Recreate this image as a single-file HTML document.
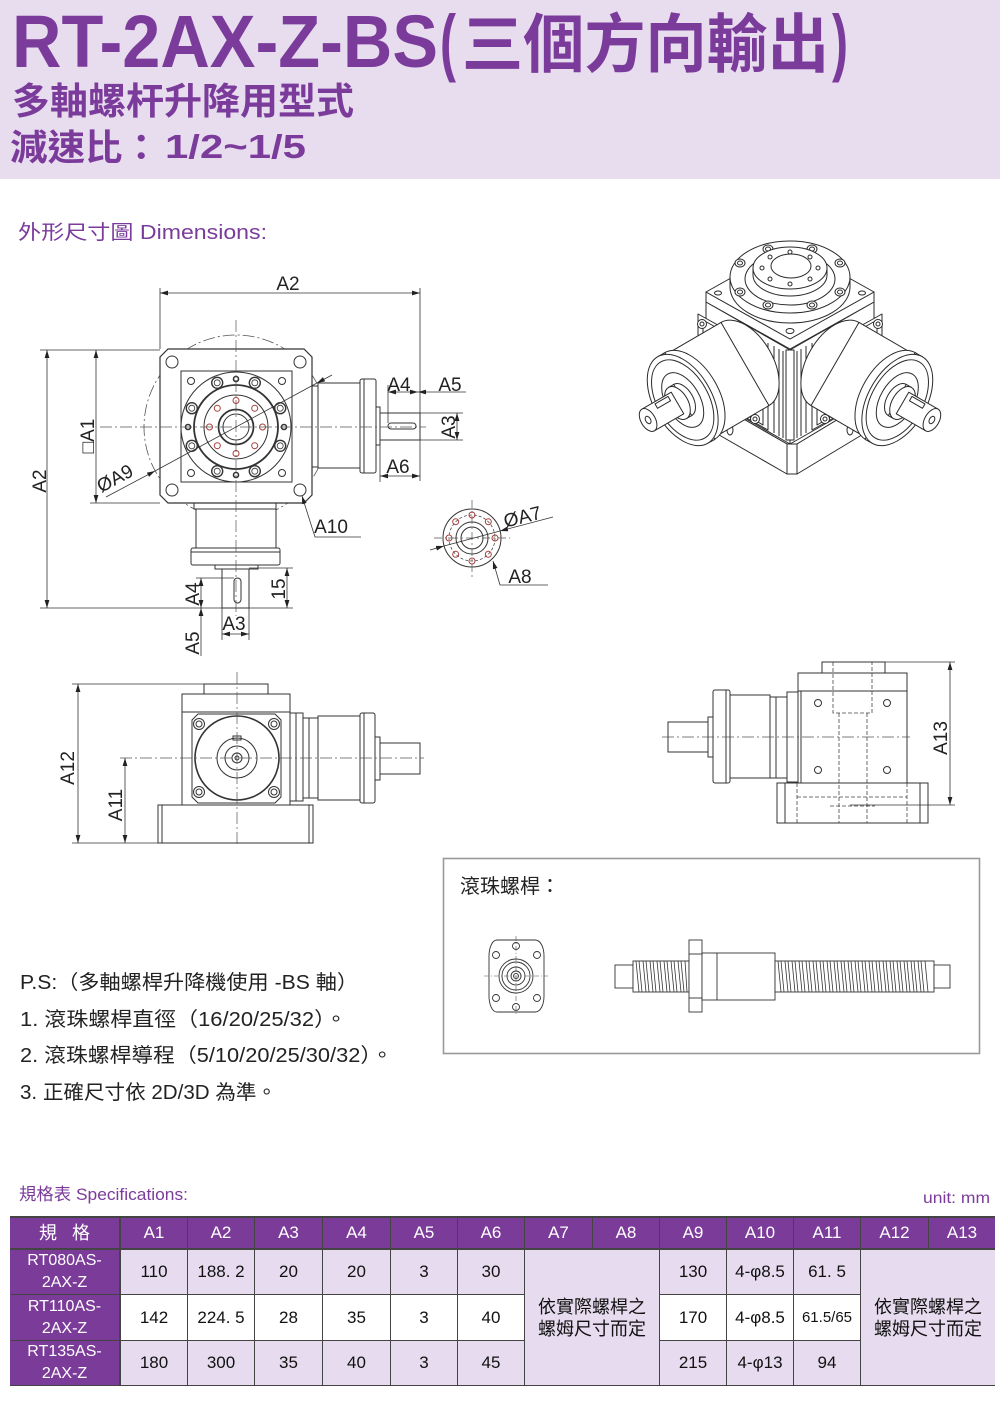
<!DOCTYPE html>
<html><head><meta charset="utf-8">
<style>
html,body{margin:0;padding:0;background:#fff;}
body{width:1000px;height:1405px;position:relative;overflow:hidden;font-family:"Liberation Sans","Noto Sans CJK TC",sans-serif;}
.hdr{position:absolute;left:0;top:0;width:1000px;height:179px;background:#e8dcef;}
svg.main{position:absolute;left:0;top:0;}
.tb{position:absolute;left:10px;top:1216px;width:985px;height:170px;background:#444;}
.c{position:absolute;display:flex;align-items:center;justify-content:center;text-align:center;font-size:17px;color:#111;line-height:22px;font-family:"Liberation Sans","Noto Sans CJK TC",sans-serif;}
.p{background:#7b3c99;color:#fff;}
.l{background:#e7dcef;}
.w{background:#fff;}
.h{top:2px;height:30px;}
.r1{top:34px;height:44px;}
.r2{top:79px;height:45px;}
.r3{top:125px;height:44px;}
</style></head>
<body>
<div class="hdr"></div>
<svg class="main" width="1000" height="1405" viewBox="0 0 1000 1405" font-family="Liberation Sans, Noto Sans CJK TC, sans-serif">
<defs>
<marker id="a" viewBox="0 0 10 6" refX="10" refY="3" markerWidth="8" markerHeight="4.8" markerUnits="userSpaceOnUse" orient="auto-start-reverse"><path d="M0,0 L10,3 L0,6z" fill="#222"/></marker>
</defs>

<!-- HEADER TEXT -->
<g fill="#7b3b9b" font-weight="bold">
<text x="12" y="67" font-size="74" textLength="426" lengthAdjust="spacingAndGlyphs">RT-2AX-Z-BS</text>
<text x="440" y="67" font-size="74" textLength="16" lengthAdjust="spacingAndGlyphs">(</text>
<text x="462" y="67" font-size="64" textLength="367" lengthAdjust="spacingAndGlyphs" font-family="Noto Sans CJK TC, sans-serif">三個方向輸出</text>
<text x="832" y="67" font-size="74" textLength="16" lengthAdjust="spacingAndGlyphs">)</text>
<text x="12" y="114" font-size="37" textLength="342" lengthAdjust="spacingAndGlyphs" font-family="Noto Sans CJK TC, sans-serif">多軸螺杆升降用型式</text>
<text x="10" y="160" font-size="36" textLength="150" lengthAdjust="spacingAndGlyphs" font-family="Noto Sans CJK TC, sans-serif">減速比：</text>
<text x="165" y="158" font-size="33" textLength="141" lengthAdjust="spacingAndGlyphs">1/2~1/5</text>
</g>
<text x="18" y="239" font-size="20" fill="#7b3b9b" textLength="249" lengthAdjust="spacingAndGlyphs">外形尺寸圖 Dimensions:</text>

<!-- ============ MAIN TOP-LEFT DRAWING ============ -->
<circle cx="236" cy="427" r="92" fill="none" stroke="#555" stroke-width="0.8" stroke-dasharray="12 3 2 3"/>
<g stroke="#333" stroke-width="1" fill="#fff">
<rect x="292" y="379" width="7" height="95"/>
<rect x="299" y="383" width="7" height="87"/>
<rect x="306" y="386" width="12" height="81"/>
<rect x="318" y="383" width="42" height="85"/>
<rect x="360" y="379" width="16" height="94" rx="2"/>
<line x1="364" y1="379" x2="364" y2="473"/>
<rect x="376" y="407" width="4" height="38"/>
<rect x="380" y="413" width="40" height="27"/>
<rect x="388" y="423" width="28" height="6" rx="3"/>
<rect x="194" y="500" width="82" height="9"/>
<rect x="196" y="509" width="80" height="39"/>
<rect x="191" y="548" width="89" height="17" rx="2"/>
<line x1="191" y1="552" x2="280" y2="552"/>
<rect x="215" y="565" width="43" height="4"/>
<rect x="222" y="569" width="27" height="39"/>
<rect x="234" y="578" width="7" height="25" rx="3.5"/>
<polygon points="168,349 304,349 312,357 312,495 304,503 168,503 160,495 160,357" stroke-width="1.2"/>
<circle cx="172" cy="362" r="6"/><circle cx="300" cy="362" r="6"/><circle cx="172" cy="490" r="6"/><circle cx="300" cy="490" r="6"/>
<rect x="181" y="371" width="111" height="111"/>
<circle cx="191" cy="381" r="3.5"/><circle cx="282" cy="381" r="3.5"/><circle cx="191" cy="473" r="3.5"/><circle cx="282" cy="473" r="3.5"/>
<circle cx="236" cy="427" r="55"/>
<circle cx="236" cy="427" r="42" stroke-width="1.8"/>
<circle cx="236" cy="427" r="32"/>
<circle cx="236" cy="427" r="17.5" stroke-width="1.8"/>
<circle cx="236" cy="427" r="13"/>
<g stroke-width="1.4">
<circle cx="280.2" cy="445.8" r="5.5"/><circle cx="191.8" cy="445.8" r="5.5"/><circle cx="280.2" cy="408.2" r="5.5"/><circle cx="191.8" cy="408.2" r="5.5"/>
<circle cx="254.8" cy="471.2" r="5.5"/><circle cx="217.2" cy="471.2" r="5.5"/><circle cx="254.8" cy="382.8" r="5.5"/><circle cx="217.2" cy="382.8" r="5.5"/>
</g>
<g fill="none" stroke-width="0.8">
<circle cx="280.2" cy="445.8" r="3"/><circle cx="191.8" cy="445.8" r="3"/><circle cx="280.2" cy="408.2" r="3"/><circle cx="191.8" cy="408.2" r="3"/>
<circle cx="254.8" cy="471.2" r="3"/><circle cx="217.2" cy="471.2" r="3"/><circle cx="254.8" cy="382.8" r="3"/><circle cx="217.2" cy="382.8" r="3"/>
</g>
<g stroke-width="1.6"><circle cx="284" cy="427" r="2.5"/><circle cx="188" cy="427" r="2.5"/><circle cx="236" cy="379" r="2.5"/><circle cx="236" cy="475" r="2.5"/></g>
<g stroke="#a8403c"><circle cx="262.5" cy="427" r="3"/><circle cx="209.5" cy="427" r="3"/><circle cx="236" cy="400.5" r="3"/><circle cx="236" cy="453.5" r="3"/>
<circle cx="254.7" cy="408.3" r="3"/><circle cx="217.3" cy="408.3" r="3"/><circle cx="254.7" cy="445.7" r="3"/><circle cx="217.3" cy="445.7" r="3"/></g>
</g>
<g stroke="#555" stroke-width="0.7" stroke-dasharray="12 3 2 3">
<line x1="100" y1="427" x2="426" y2="427"/>
<line x1="236" y1="320" x2="236" y2="616"/>
</g>
<g stroke="#333" stroke-width="0.8" fill="none">
<line x1="160" y1="288" x2="160" y2="349"/>
<line x1="420" y1="288" x2="420" y2="481"/>
<line x1="160" y1="293" x2="420" y2="293" marker-start="url(#a)" marker-end="url(#a)"/>
<line x1="40" y1="350" x2="160" y2="350"/>
<line x1="40" y1="608" x2="293" y2="608"/>
<line x1="47" y1="350" x2="47" y2="608" marker-start="url(#a)" marker-end="url(#a)"/>
<line x1="90" y1="503" x2="160" y2="503"/>
<line x1="96" y1="350" x2="96" y2="503" marker-start="url(#a)" marker-end="url(#a)"/>
<line x1="155" y1="471" x2="317" y2="383"/>
<line x1="106" y1="497" x2="155" y2="471" marker-end="url(#a)"/>
<line x1="332" y1="375" x2="317" y2="383" marker-end="url(#a)"/>
<polyline points="302,496 315,537 361,537" marker-start="url(#a)"/>
<line x1="388" y1="385" x2="388" y2="423"/>
<line x1="388" y1="392" x2="418" y2="392" marker-start="url(#a)" marker-end="url(#a)"/>
<line x1="418" y1="392" x2="466" y2="392" marker-start="url(#a)"/>
<line x1="420" y1="413" x2="463" y2="413"/>
<line x1="420" y1="440" x2="463" y2="440"/>
<line x1="457" y1="413" x2="457" y2="440" marker-start="url(#a)" marker-end="url(#a)"/>
<line x1="380" y1="445" x2="380" y2="482"/>
<line x1="380" y1="476" x2="420" y2="476" marker-start="url(#a)" marker-end="url(#a)"/>
<line x1="249" y1="568" x2="293" y2="568"/>
<line x1="287" y1="568" x2="287" y2="608" marker-start="url(#a)" marker-end="url(#a)"/>
<line x1="196" y1="578" x2="234" y2="578"/>
<line x1="201" y1="578" x2="201" y2="608" marker-start="url(#a)" marker-end="url(#a)"/>
<line x1="201" y1="608" x2="201" y2="656" marker-start="url(#a)"/>
<line x1="222" y1="608" x2="222" y2="640"/>
<line x1="249" y1="608" x2="249" y2="640"/>
<line x1="222" y1="634" x2="249" y2="634" marker-start="url(#a)" marker-end="url(#a)"/>
</g>
<g font-size="19" fill="#222" text-anchor="middle">
<text x="288" y="290">A2</text>
<text transform="translate(46,481) rotate(-90)">A2</text>
<text transform="translate(94,436) rotate(-90)">□A1</text>
<text transform="translate(118,484) rotate(-28.4)">ØA9</text>
<text x="331" y="533">A10</text>
<text x="399" y="391">A4</text>
<text x="450" y="391">A5</text>
<text transform="translate(455,427) rotate(-90)">A3</text>
<text x="398" y="473">A6</text>
<text transform="translate(285,589) rotate(-90)">15</text>
<text transform="translate(199,594) rotate(-90)">A4</text>
<text transform="translate(199,643) rotate(-90)">A5</text>
<text x="234" y="630">A3</text>
</g>

<!-- A7 view -->
<g stroke="#333" stroke-width="1" fill="none">
<circle cx="472" cy="538" r="29" fill="#fff"/>
<circle cx="472" cy="538" r="23" stroke-dasharray="3 2" stroke-width="0.7"/>
<circle cx="472" cy="538" r="16"/>
<circle cx="472" cy="538" r="11"/>
<g stroke="#a8403c"><circle cx="495" cy="538" r="3"/><circle cx="449" cy="538" r="3"/><circle cx="472" cy="515" r="3"/><circle cx="472" cy="561" r="3"/>
<circle cx="488.3" cy="521.7" r="3"/><circle cx="455.7" cy="521.7" r="3"/><circle cx="488.3" cy="554.3" r="3"/><circle cx="455.7" cy="554.3" r="3"/></g>
<g stroke="#555" stroke-width="0.7" stroke-dasharray="8 3 2 3"><line x1="434" y1="538" x2="510" y2="538"/><line x1="472" y1="500" x2="472" y2="577"/></g>
<g stroke-width="0.8">
<line x1="444" y1="546" x2="500" y2="531"/>
<line x1="430" y1="550" x2="444" y2="546" marker-end="url(#a)"/>
<line x1="553" y1="517" x2="500" y2="531" marker-end="url(#a)"/>
<polyline points="493,561 500,585 548,585" marker-start="url(#a)"/>
</g>
</g>
<g font-size="19" fill="#222" text-anchor="middle">
<text transform="translate(524,523) rotate(-14)">ØA7</text>
<text x="520" y="583">A8</text>
</g>

<!-- ============ 3D VIEW ============ -->
<g stroke="#2a2a2a" stroke-width="1" fill="#fff" stroke-linejoin="round">
<polygon points="700,394 745,368 835,368 880,394 797,444 787,444"/>
<polygon points="700,394 787,444 787,474 700,424"/>
<polygon points="797,444 880,394 880,424 797,474"/>
<rect x="787" y="444" width="10" height="30"/>
<ellipse cx="792" cy="435" rx="5" ry="3"/>
<ellipse cx="730" cy="430" rx="3" ry="5"/>
<ellipse cx="850" cy="430" rx="3" ry="5"/>
<polygon points="706,302 790,350 790,444 706,396"/>
<polygon points="874,302 790,350 790,444 874,396"/>
<rect x="786" y="350" width="8" height="90"/>
<path d="M768,343 V430 M774,346 V433 M779,349 V436 M783,351 V438 M797,351 V438 M801,349 V436 M806,346 V433 M812,343 V430" fill="none"/>
<g id="sp">
<polygon points="698,314 768,353 768,430 698,391"/>
<polygon points="703,320 763,354 763,425 703,390" fill="none"/>
<circle cx="702" cy="324" r="4.5"/><circle cx="702" cy="324" r="2"/>
<circle cx="758" cy="358" r="4.5"/><circle cx="758" cy="358" r="2"/>
<circle cx="755" cy="419" r="4.5"/><circle cx="755" cy="419" r="2"/>
</g>
<use href="#sp" transform="translate(1580,0) scale(-1,1)"/>
<polygon points="706,302 790,349 874,302 874,292 790,339 706,292"/>
<polygon points="706,292 790,245 874,292 790,339"/>
<ellipse cx="790" cy="331" rx="4" ry="2.5"/>
<ellipse cx="718" cy="293" rx="3.5" ry="2"/>
<ellipse cx="862" cy="293" rx="3.5" ry="2"/>
<path d="M730,277 L730,287 A60,36 0 0 0 850,287 L850,277 Z"/>
<ellipse cx="790" cy="277" rx="60" ry="36"/>
<ellipse cx="790" cy="279" rx="45" ry="26" fill="none"/>
<g>
<ellipse cx="768" cy="249" rx="5" ry="4"/><ellipse cx="812" cy="249" rx="5" ry="4"/>
<ellipse cx="740" cy="263" rx="5" ry="4"/><ellipse cx="840" cy="263" rx="5" ry="4"/>
<ellipse cx="740" cy="292" rx="5" ry="4"/><ellipse cx="840" cy="292" rx="5" ry="4"/>
<ellipse cx="768" cy="305" rx="5" ry="4"/><ellipse cx="812" cy="305" rx="5" ry="4"/>
<ellipse cx="768" cy="249" rx="2.5" ry="2"/><ellipse cx="812" cy="249" rx="2.5" ry="2"/>
<ellipse cx="740" cy="263" rx="2.5" ry="2"/><ellipse cx="840" cy="263" rx="2.5" ry="2"/>
<ellipse cx="740" cy="292" rx="2.5" ry="2"/><ellipse cx="840" cy="292" rx="2.5" ry="2"/>
<ellipse cx="768" cy="305" rx="2.5" ry="2"/><ellipse cx="812" cy="305" rx="2.5" ry="2"/>
</g>
<path d="M753,268 L753,275 A37,21 0 0 0 827,275 L827,268 Z"/>
<ellipse cx="790" cy="268" rx="37" ry="21"/>
<g><circle cx="818" cy="268" r="2"/><circle cx="762" cy="268" r="2"/><circle cx="790" cy="252" r="2"/><circle cx="790" cy="284" r="2"/>
<circle cx="810" cy="257" r="2"/><circle cx="770" cy="257" r="2"/><circle cx="810" cy="279" r="2"/><circle cx="770" cy="279" r="2"/></g>
<ellipse cx="791" cy="266" rx="20" ry="12"/>
<g id="cyl">
<ellipse cx="745" cy="364" rx="48" ry="28" transform="rotate(60 745 364)"/>
<polygon points="721,322.4 769,405.6 714,437.6 666,354.4"/>
<ellipse cx="689.6" cy="396" rx="50" ry="29" transform="rotate(60 689.6 396)"/>
<polygon points="665,352.7 715,439.3 707.7,443.3 657.7,356.7"/>
<ellipse cx="682.7" cy="400" rx="50" ry="29" transform="rotate(60 682.7 400)"/>
<ellipse cx="682.7" cy="400" rx="44" ry="25.5" transform="rotate(60 682.7 400)" fill="none"/>
<ellipse cx="682.7" cy="400" rx="30" ry="17" transform="rotate(60 682.7 400)" fill="none"/>
<ellipse cx="682.7" cy="400" rx="18" ry="10.5" transform="rotate(60 682.7 400)"/>
<polygon points="673.7,384.4 691.7,415.6 686.5,418.6 668.5,387.4"/>
<ellipse cx="677.5" cy="403" rx="18" ry="10.5" transform="rotate(60 677.5 403)"/>
<polygon points="671.25,392.2 683.75,413.8 654.35,430.8 641.85,409.2"/>
<ellipse cx="648.1" cy="420" rx="12.5" ry="7.2" transform="rotate(60 648.1 420)"/>
<ellipse cx="648.1" cy="420" rx="4" ry="2.5" transform="rotate(60 648.1 420)"/>
<polygon points="668,396.4 655,403.9 657.5,408.3 670.5,400.8"/>
</g>
<use href="#cyl" transform="translate(1580,0) scale(-1,1)"/>
</g>

<!-- ============ MIDDLE LEFT ============ -->
<g stroke="#333" stroke-width="1" fill="#fff">
<rect x="204" y="684" width="64" height="10"/>
<rect x="182" y="694" width="108" height="18"/>
<rect x="182" y="712" width="108" height="93"/>
<polygon points="198,714 275,714 281,720 281,797 275,803 198,803 192,797 192,720" fill="none"/>
<circle cx="237" cy="758" r="42" stroke-width="1.6"/>
<circle cx="237" cy="758" r="20" fill="none"/>
<circle cx="237" cy="758" r="12" fill="none"/>
<circle cx="237" cy="758" r="5" fill="none"/>
<circle cx="237" cy="758" r="2" fill="none"/>
<rect x="233" y="736" width="8" height="4" fill="none"/>
<circle cx="199" cy="724" r="5.5"/><circle cx="274" cy="724" r="5.5"/><circle cx="199" cy="792" r="5.5"/><circle cx="274" cy="792" r="5.5"/>
<circle cx="199" cy="724" r="3"/><circle cx="274" cy="724" r="3"/><circle cx="199" cy="792" r="3"/><circle cx="274" cy="792" r="3"/>
<rect x="158" y="805" width="155" height="38"/>
<line x1="162" y1="805" x2="162" y2="843"/><line x1="309" y1="805" x2="309" y2="843"/>
<rect x="290" y="713" width="13" height="88"/>
<line x1="296" y1="713" x2="296" y2="801"/>
<rect x="303" y="718" width="15" height="80"/>
<line x1="309" y1="718" x2="309" y2="798"/>
<rect x="318" y="716" width="42" height="84"/>
<rect x="360" y="713" width="15" height="90" rx="2"/>
<line x1="364" y1="713" x2="364" y2="803"/>
<rect x="375" y="737" width="5" height="43"/>
<rect x="380" y="743" width="40" height="31"/>
</g>
<g stroke="#555" stroke-width="0.7" stroke-dasharray="12 3 2 3">
<line x1="120" y1="758" x2="424" y2="758"/>
<line x1="237" y1="672" x2="237" y2="846"/>
</g>
<g stroke="#333" stroke-width="0.8" fill="none">
<line x1="72" y1="684" x2="205" y2="684"/>
<line x1="72" y1="843" x2="160" y2="843"/>
<line x1="78" y1="684" x2="78" y2="843" marker-start="url(#a)" marker-end="url(#a)"/>
<line x1="125" y1="758" x2="125" y2="843" marker-start="url(#a)" marker-end="url(#a)"/>
</g>
<g font-size="19" fill="#222" text-anchor="middle">
<text transform="translate(74,768) rotate(-90)">A12</text>
<text transform="translate(122,805) rotate(-90)">A11</text>
</g>

<!-- ============ MIDDLE RIGHT ============ -->
<g stroke="#333" stroke-width="1" fill="#fff">
<rect x="822" y="662" width="63" height="11"/>
<rect x="798" y="673" width="109" height="18"/>
<rect x="798" y="691" width="109" height="92"/>
<line x1="801" y1="691" x2="801" y2="783"/>
<rect x="777" y="783" width="151" height="40"/>
<line x1="785" y1="783" x2="785" y2="823"/><line x1="920" y1="783" x2="920" y2="823"/>
<circle cx="818" cy="703" r="3.5"/><circle cx="887" cy="703" r="3.5"/><circle cx="818" cy="770" r="3.5"/><circle cx="887" cy="770" r="3.5"/>
<rect x="787" y="692" width="11" height="90"/>
<rect x="770" y="697" width="17" height="81"/>
<line x1="776" y1="697" x2="776" y2="778"/>
<rect x="730" y="695" width="40" height="83"/>
<rect x="713" y="690" width="17" height="93" rx="2"/>
<line x1="726" y1="690" x2="726" y2="783"/>
<rect x="708" y="717" width="5" height="40"/>
<rect x="668" y="722" width="40" height="30"/>
</g>
<g stroke="#444" stroke-width="0.8" fill="none" stroke-dasharray="4 2">
<polyline points="833,662 833,713 872,713 872,662"/>
<line x1="839" y1="713" x2="839" y2="823"/>
<line x1="867" y1="713" x2="867" y2="823"/>
<line x1="797" y1="783" x2="797" y2="823"/>
<line x1="907" y1="783" x2="907" y2="823"/>
<line x1="797" y1="797" x2="907" y2="797"/>
<line x1="830" y1="806" x2="875" y2="806"/>
</g>
<g stroke="#555" stroke-width="0.7" stroke-dasharray="12 3 2 3">
<line x1="662" y1="737" x2="910" y2="737"/>
</g>
<g stroke="#333" stroke-width="0.8" fill="none">
<line x1="885" y1="662" x2="955" y2="662"/>
<line x1="850" y1="805" x2="955" y2="805"/>
<line x1="950" y1="662" x2="950" y2="805" marker-start="url(#a)" marker-end="url(#a)"/>
</g>
<text transform="translate(947,738) rotate(-90)" font-size="19" fill="#222" text-anchor="middle">A13</text>

<!-- ============ BALL SCREW BOX ============ -->
<rect x="443.5" y="858.5" width="536" height="195" fill="none" stroke="#9a9a9a" stroke-width="1.6"/>
<text x="460" y="893" font-size="20" fill="#222" font-family="Noto Sans CJK TC, sans-serif" textLength="100" lengthAdjust="spacingAndGlyphs">滾珠螺桿：</text>
<g stroke="#333" stroke-width="0.9" fill="#fff">
<path d="M497,940 L535,940 C541,940 544,948 544,956 L544,996 C544,1004 541,1012 535,1012 L497,1012 C492,1012 489,1004 489,996 L489,956 C489,948 492,940 497,940 Z"/>
<circle cx="516" cy="976" r="17"/>
<circle cx="516" cy="976" r="14"/>
<circle cx="516" cy="976" r="9"/>
<circle cx="516" cy="976" r="5"/>
<circle cx="516" cy="976" r="2.5"/>
<circle cx="516" cy="946" r="3.5"/><circle cx="496" cy="955" r="3.5"/><circle cx="537" cy="955" r="3.5"/>
<circle cx="496" cy="998" r="3.5"/><circle cx="537" cy="998" r="3.5"/><circle cx="516" cy="1007" r="3.5"/>
<rect x="615" y="965" width="18" height="23"/>
<rect x="633" y="961" width="56" height="31"/>
<rect x="689" y="940" width="13" height="72"/>
<line x1="689" y1="954" x2="702" y2="954"/><line x1="689" y1="998" x2="702" y2="998"/>
<rect x="702" y="953" width="73" height="47"/>
<line x1="717" y1="953" x2="717" y2="1000"/>
<rect x="775" y="961" width="159" height="31"/>
<rect x="934" y="965" width="16" height="23"/>
<path fill="none" stroke-width="0.8" d="M636,961l3,31m0,-31l3,31M643,961l3,31m0,-31l3,31M650,961l3,31m0,-31l3,31M657,961l3,31m0,-31l3,31M664,961l3,31m0,-31l3,31M671,961l3,31m0,-31l3,31M678,961l3,31m0,-31l3,31M685,961l2,31
M778,961l3,31m0,-31l3,31M785,961l3,31m0,-31l3,31M792,961l3,31m0,-31l3,31M799,961l3,31m0,-31l3,31M806,961l3,31m0,-31l3,31M813,961l3,31m0,-31l3,31M820,961l3,31m0,-31l3,31M827,961l3,31m0,-31l3,31M834,961l3,31m0,-31l3,31M841,961l3,31m0,-31l3,31M848,961l3,31m0,-31l3,31M855,961l3,31m0,-31l3,31M862,961l3,31m0,-31l3,31M869,961l3,31m0,-31l3,31M876,961l3,31m0,-31l3,31M883,961l3,31m0,-31l3,31M890,961l3,31m0,-31l3,31M897,961l3,31m0,-31l3,31M904,961l3,31m0,-31l3,31M911,961l3,31m0,-31l3,31M918,961l3,31m0,-31l3,31M925,961l3,31"/>
</g>
<g stroke="#555" stroke-width="0.6" stroke-dasharray="5 2 1 2">
<line x1="484" y1="976" x2="548" y2="976"/>
<line x1="516" y1="936" x2="516" y2="1016"/>
</g>

<!-- ============ P.S TEXT ============ -->
<g font-size="20" fill="#222">
<text x="20" y="989" textLength="338" lengthAdjust="spacingAndGlyphs">P.S:（多軸螺桿升降機使用 -BS 軸）</text>
<text x="20" y="1026" textLength="327" lengthAdjust="spacingAndGlyphs">1. 滾珠螺桿直徑（16/20/25/32）。</text>
<text x="20" y="1062" textLength="373" lengthAdjust="spacingAndGlyphs">2. 滾珠螺桿導程（5/10/20/25/30/32）。</text>
<text x="20" y="1099" textLength="257" lengthAdjust="spacingAndGlyphs">3. 正確尺寸依 2D/3D 為準。</text>
</g>

<!-- ============ SPEC TITLE ============ -->
<text x="19" y="1200" font-size="17" fill="#7b3b9b" textLength="169" lengthAdjust="spacingAndGlyphs">規格表 Specifications:</text>
<text x="923" y="1203" font-size="16" fill="#7b3b9b" textLength="67" lengthAdjust="spacingAndGlyphs">unit: mm</text>
</svg>

<div class="tb">
<div class="c p h" style="left:0;width:109px;font-size:18px;">規&nbsp;&nbsp;&nbsp;格</div>
<div class="c p h" style="left:111px;width:66px;">A1</div>
<div class="c p h" style="left:178px;width:66px;">A2</div>
<div class="c p h" style="left:245px;width:67px;">A3</div>
<div class="c p h" style="left:313px;width:67px;">A4</div>
<div class="c p h" style="left:381px;width:66px;">A5</div>
<div class="c p h" style="left:448px;width:66px;">A6</div>
<div class="c p h" style="left:515px;width:67px;">A7</div>
<div class="c p h" style="left:583px;width:66px;">A8</div>
<div class="c p h" style="left:650px;width:66px;">A9</div>
<div class="c p h" style="left:717px;width:66px;">A10</div>
<div class="c p h" style="left:784px;width:66px;">A11</div>
<div class="c p h" style="left:851px;width:67px;">A12</div>
<div class="c p h" style="left:919px;width:66px;">A13</div>

<div class="c p r1" style="left:0;width:109px;font-size:16px;">RT080AS-<br>2AX-Z</div>
<div class="c l r1" style="left:111px;width:66px;">110</div>
<div class="c l r1" style="left:178px;width:66px;">188. 2</div>
<div class="c l r1" style="left:245px;width:67px;">20</div>
<div class="c l r1" style="left:313px;width:67px;">20</div>
<div class="c l r1" style="left:381px;width:66px;">3</div>
<div class="c l r1" style="left:448px;width:66px;">30</div>
<div class="c l r1" style="left:650px;width:66px;">130</div>
<div class="c l r1" style="left:717px;width:66px;">4-φ8.5</div>
<div class="c l r1" style="left:784px;width:66px;">61. 5</div>

<div class="c p r2" style="left:0;width:109px;font-size:16px;">RT110AS-<br>2AX-Z</div>
<div class="c w r2" style="left:111px;width:66px;">142</div>
<div class="c w r2" style="left:178px;width:66px;">224. 5</div>
<div class="c w r2" style="left:245px;width:67px;">28</div>
<div class="c w r2" style="left:313px;width:67px;">35</div>
<div class="c w r2" style="left:381px;width:66px;">3</div>
<div class="c w r2" style="left:448px;width:66px;">40</div>
<div class="c w r2" style="left:650px;width:66px;">170</div>
<div class="c w r2" style="left:717px;width:66px;">4-φ8.5</div>
<div class="c w r2" style="left:784px;width:66px;font-size:15px;">61.5/65</div>

<div class="c p r3" style="left:0;width:109px;font-size:16px;">RT135AS-<br>2AX-Z</div>
<div class="c l r3" style="left:111px;width:66px;">180</div>
<div class="c l r3" style="left:178px;width:66px;">300</div>
<div class="c l r3" style="left:245px;width:67px;">35</div>
<div class="c l r3" style="left:313px;width:67px;">40</div>
<div class="c l r3" style="left:381px;width:66px;">3</div>
<div class="c l r3" style="left:448px;width:66px;">45</div>
<div class="c l r3" style="left:650px;width:66px;">215</div>
<div class="c l r3" style="left:717px;width:66px;">4-φ13</div>
<div class="c l r3" style="left:784px;width:66px;">94</div>

<div class="c l" style="left:515px;width:134px;top:34px;height:135px;font-size:18px;">依實際螺桿之<br>螺姆尺寸而定</div>
<div class="c l" style="left:851px;width:134px;top:34px;height:135px;font-size:18px;">依實際螺桿之<br>螺姆尺寸而定</div>
</div>
</body></html>
